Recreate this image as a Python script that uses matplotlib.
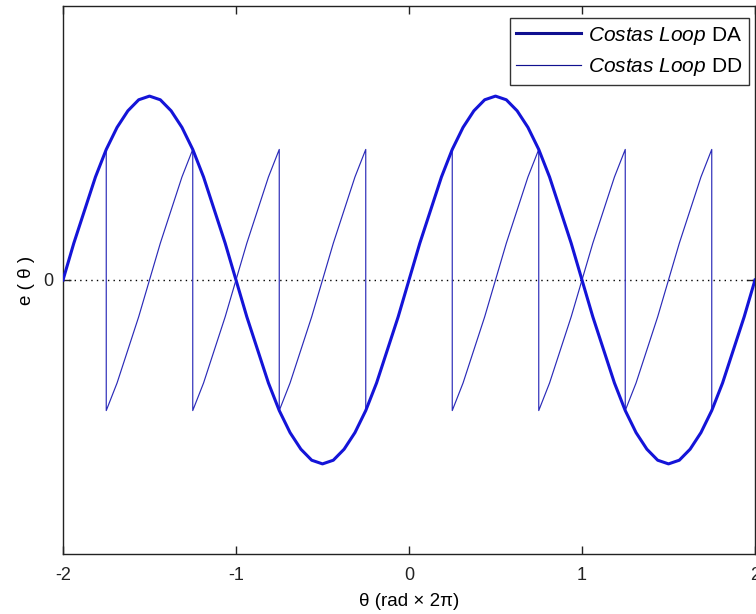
import matplotlib
matplotlib.use("Agg")
import matplotlib.pyplot as plt

# ---------------- data ----------------
# theta grid, step 1/16, from -2 to 2
theta_step_16ths = list(range(-32, 33))
# DA S-curve values (peak 1 at theta=-1.5 and 0.5, trough -1 at -0.5 and 1.5)
da_values = [
    0.00, 0.20, 0.38, 0.56, 0.71, 0.83, 0.92, 0.98, 1.00, 0.98, 0.92, 0.83, 0.71, 0.56, 0.38, 0.20,
    0.00, -0.20, -0.38, -0.56, -0.71, -0.83, -0.92, -0.98, -1.00, -0.98, -0.92, -0.83, -0.71, -0.56, -0.38, -0.20,
    0.00, 0.20, 0.38, 0.56, 0.71, 0.83, 0.92, 0.98, 1.00, 0.98, 0.92, 0.83, 0.71, 0.56, 0.38, 0.20,
    0.00, -0.20, -0.38, -0.56, -0.71, -0.83, -0.92, -0.98, -1.00, -0.98, -0.92, -0.83, -0.71, -0.56, -0.38, -0.20,
    0.00,
]
# DD S-curve: one tooth (from -0.25 to +0.25 around its centre, step 1/16)
dd_tooth_offsets = [-0.25, -0.1875, -0.125, -0.0625, 0.0, 0.0625, 0.125, 0.1875, 0.25]
dd_tooth_values = [-0.71, -0.56, -0.38, -0.20, 0.00, 0.20, 0.38, 0.56, 0.71]
dd_tooth_centres = [-2.0, -1.5, -1.0, -0.5, 0.0, 0.5, 1.0, 1.5, 2.0]

x_ticks = [-2, -1, 0, 1, 2]
x_tick_labels = ["-2", "-1", "0", "1", "2"]
y_ticks = [0]
y_tick_labels = ["0"]

da_label = r"$\mathit{Costas\ Loop}$ DA"
dd_label = r"$\mathit{Costas\ Loop}$ DD"
x_label = "θ (rad × 2π)"
y_label = "e ( θ )"

# ---------------- style ----------------
fam = "Liberation Sans"
plt.rcParams["font.family"] = [fam, "DejaVu Sans"]
plt.rcParams["mathtext.fontset"] = "custom"
plt.rcParams["mathtext.it"] = fam + ":italic"
plt.rcParams["mathtext.rm"] = fam

W, H = 756, 614
fig = plt.figure(figsize=(W / 100, H / 100), dpi=100)
ax_l, ax_r, ax_t, ax_b = 63, 755, 6, 554
ax = fig.add_axes([ax_l / W, 1 - ax_b / H, (ax_r - ax_l) / W, (ax_b - ax_t) / H])

da_theta = [k / 16 for k in theta_step_16ths]

# build DD polyline from teeth (clipped to [-2, 2])
dd_theta, dd_vals = [], []
for c in dd_tooth_centres:
    for off, v in zip(dd_tooth_offsets, dd_tooth_values):
        t = c + off
        if -2.0 <= t <= 2.0:
            dd_theta.append(t)
            dd_vals.append(v)

ax.axhline(0, color="black", linestyle=(0, (1, 3)), linewidth=1.0, zorder=1)
ax.plot(da_theta, da_values, color="#1414d8", linewidth=2.2, label=da_label, zorder=3)
ax.plot(dd_theta, dd_vals, color="#2a2ab8", linewidth=0.85, label=dd_label, zorder=2)

ax.set_xlim(-2, 2)
ax.set_ylim(-1.49, 1.49)
ax.set_xticks(x_ticks)
ax.set_xticklabels(x_tick_labels)
ax.set_yticks(y_ticks)
ax.set_yticklabels(y_tick_labels)
ax.tick_params(direction="in", length=6, width=1, top=True, right=True,
               labelsize=13, colors="#222222")
ax.tick_params(axis="x", pad=9)
ax.tick_params(axis="y", pad=7)
for s in ax.spines.values():
    s.set_linewidth(1.0)
    s.set_color("#222222")

ax.set_xlabel(x_label, fontsize=13.5, labelpad=7)
ax.set_ylabel(y_label, fontsize=13.5, labelpad=6)

leg_right, leg_top = 749, 18
leg = ax.legend(loc="upper right",
                bbox_to_anchor=((leg_right - ax_l) / (ax_r - ax_l), (ax_b - leg_top) / (ax_b - ax_t)),
                borderaxespad=0, fontsize=15, handlelength=3.1, frameon=True,
                fancybox=False, handletextpad=0.35, labelspacing=0.45, borderpad=0.32)
leg.get_frame().set_edgecolor("black")
leg.get_frame().set_linewidth(1.0)
for h in leg.get_lines():
    h.set_color("#101090")

fig.savefig("out.png", dpi=100)
